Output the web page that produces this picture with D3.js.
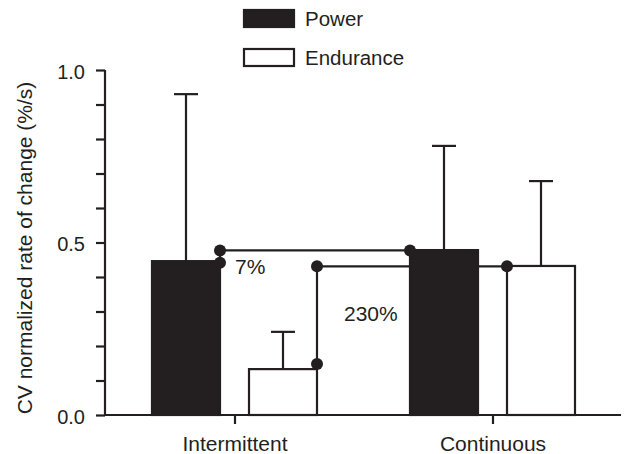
<!DOCTYPE html>
<html>
<head>
<meta charset="utf-8">
<script src="https://cdn.jsdelivr.net/npm/d3@7"></script>
<style>
  html, body { margin: 0; padding: 0; background: #fff; }
  svg { display: block; }
  text { font-family: "Liberation Sans", Arial, Helvetica, sans-serif; fill: #231f20; }
</style>
</head>
<body>
<svg id="chart" width="624" height="454"></svg>
<script>
// ---- data ----
const groups = ["Intermittent", "Continuous"];
const series = ["Power", "Endurance"];
const powerMean = [0.446, 0.478];
const powerSD = [0.484, 0.302];
const enduranceMean = [0.133, 0.432];
const enduranceSD = [0.108, 0.246];
const majorTicks = [0.0, 0.5, 1.0];
const minorTicks = [0.1, 0.2, 0.3, 0.4, 0.6, 0.7, 0.8, 0.9];
const yLabel = "CV normalized rate of change (%/s)";
// comparisons between Intermittent and Continuous for each series
const compSeries = ["Power", "Endurance"];
const compLabel = ["7%", "230%"];
const compLow = [0.441, 0.148];
const compHigh = [0.477, 0.431];

// ---- setup ----
const ink = "#231f20";
const svg = d3.select("#chart");
const y = d3.scaleLinear().domain([0, 1]).range([415, 70]);
const x0 = d3.scaleBand().domain(groups).range([106, 622]).paddingInner(0).paddingOuter(0);
const x1 = d3.scaleBand().domain(series).range([-83, 82]).paddingInner(0.299);

const means = { Power: powerMean, Endurance: enduranceMean };
const sds = { Power: powerSD, Endurance: enduranceSD };
const rows = [];
groups.forEach((g, gi) => series.forEach(s => rows.push({ g, s, mean: means[s][gi], sd: sds[s][gi] })));
const barX = d => x0(d.g) + x0.bandwidth() / 2 + x1(d.s);

// ---- y axis ----
const yAxis = d3.axisLeft(y).tickValues(majorTicks.concat(minorTicks)).tickSize(9).tickPadding(11)
  .tickFormat(v => majorTicks.some(m => Math.abs(m - v) < 1e-9) ? d3.format(".1f")(v) : "");
const gy = svg.append("g").attr("transform", "translate(105,0)").call(yAxis);
gy.select(".domain").attr("d", `M0,${y(1)}V${y(0)}`).attr("stroke", ink).attr("stroke-width", 2.2);
gy.selectAll(".tick line").attr("stroke", ink).attr("stroke-width", 2.2);
gy.selectAll(".tick text").attr("font-size", 20).attr("fill", ink).attr("dy", "0.42em")
  .style("font-family", '"Liberation Sans", Arial, sans-serif');

svg.append("text").attr("transform", `translate(32,${(y(0) + 77) / 2 + 2}) rotate(-90)`)
  .attr("text-anchor", "middle").attr("font-size", 21).text(yLabel);

// ---- x axis ----
const xAxis = d3.axisBottom(x0).tickSize(9).tickPadding(12);
const gx = svg.append("g").attr("transform", `translate(0,${y(0)})`).call(xAxis);
gx.select(".domain").attr("d", `M104,0H621`).attr("stroke", ink).attr("stroke-width", 2.2);
gx.selectAll(".tick line").attr("stroke", ink).attr("stroke-width", 2.2);
gx.selectAll(".tick text").attr("font-size", 21).attr("fill", ink)
  .style("font-family", '"Liberation Sans", Arial, sans-serif');

// ---- comparison brackets (lines behind bars) ----
const comps = compSeries.map((s, i) => {
  const from = { g: groups[0], s }, to = { g: groups[1], s };
  return {
    xa: barX(from) + x1.bandwidth(), xb: barX(to),
    lo: compLow[i], hi: compHigh[i], label: compLabel[i]
  };
});
svg.append("g").selectAll("path").data(comps).join("path")
  .attr("d", c => `M${c.xa},${y(c.lo)}V${y(c.hi)}H${c.xb}`)
  .attr("fill", "none").attr("stroke", ink).attr("stroke-width", 2.2);

// ---- error bars ----
const eb = svg.append("g").selectAll("g").data(rows).join("g");
eb.append("line")
  .attr("x1", d => barX(d) + x1.bandwidth() / 2).attr("x2", d => barX(d) + x1.bandwidth() / 2)
  .attr("y1", d => y(d.mean)).attr("y2", d => y(d.mean + d.sd))
  .attr("stroke", ink).attr("stroke-width", 2.2);
eb.append("line")
  .attr("x1", d => barX(d) + x1.bandwidth() / 2 - 12).attr("x2", d => barX(d) + x1.bandwidth() / 2 + 12)
  .attr("y1", d => y(d.mean + d.sd)).attr("y2", d => y(d.mean + d.sd))
  .attr("stroke", ink).attr("stroke-width", 2.2);

// ---- bars ----
svg.append("g").selectAll("rect").data(rows).join("rect")
  .attr("x", barX).attr("width", x1.bandwidth())
  .attr("y", d => y(d.mean)).attr("height", d => y(0) - y(d.mean))
  .attr("fill", d => d.s === "Power" ? ink : "#fff")
  .attr("stroke", ink).attr("stroke-width", 2.2);

// ---- bracket dots ----
const dots = [];
comps.forEach(c => {
  dots.push({ x: c.xa, v: c.lo }, { x: c.xa, v: c.hi }, { x: c.xb, v: c.hi });
});
svg.append("g").selectAll("circle").data(dots).join("circle")
  .attr("cx", d => d.x).attr("cy", d => y(d.v)).attr("r", 6).attr("fill", ink);

// ---- bracket labels ----
svg.append("text").attr("x", comps[0].xa + 15).attr("y", y(comps[0].hi) + 24)
  .attr("font-size", 21).text(comps[0].label);
svg.append("text").attr("x", comps[1].xa + 27).attr("y", y(compHigh[1]) + 55)
  .attr("font-size", 21).text(comps[1].label);

// ---- legend ----
const leg = svg.append("g").selectAll("g").data(series).join("g")
  .attr("transform", (d, i) => `translate(244,${10 + i * 39})`);
leg.append("rect").attr("width", 50).attr("height", 17)
  .attr("fill", d => d === "Power" ? ink : "#fff").attr("stroke", ink).attr("stroke-width", 2.2);
leg.append("text").attr("x", 61).attr("y", 8.5).attr("dy", "0.36em").attr("font-size", 20.5).text(d => d);
</script>
</body>
</html>
